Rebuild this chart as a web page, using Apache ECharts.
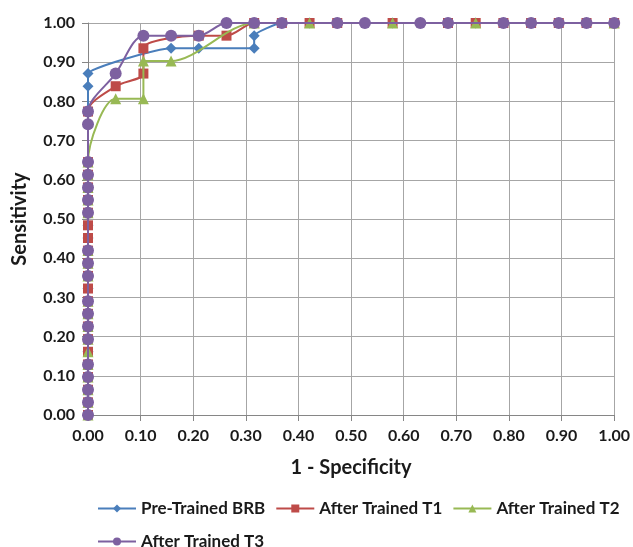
<!DOCTYPE html>
<html>
<head>
<meta charset="utf-8">
<script src="https://cdn.jsdelivr.net/npm/echarts@6/dist/echarts.min.js"></script>
<style>
html,body{margin:0;padding:0;background:#fff;}
#c{width:633px;height:547px;}
</style>
</head>
<body>
<div id="c"></div>
<script>
// Tick labels
var xTicks = [0,0.1,0.2,0.3,0.4,0.5,0.6,0.7,0.8,0.9,1.0];
var yTicks = [0,0.1,0.2,0.3,0.4,0.5,0.6,0.7,0.8,0.9,1.0];
var seriesNames = ['Pre-Trained BRB','After Trained T1','After Trained T2','After Trained T3'];

// Pre-Trained BRB
var preX = [0,0,0,0,0,0,0,0,0,0,0,0,0,0,0,0,0,0,0,0,0,0,0,0,
  0.1579,0.2105,0.3158,0.3158,0.3684,0.4211,0.4737,0.5263,0.5789,0.6316,0.6842,0.7368,0.7895,0.8421,0.8947,0.9474,1];
var preY = [0,0.0323,0.0645,0.0968,0.1290,0.1613,0.1935,0.2258,0.2581,0.2903,0.3226,0.3548,0.3871,0.4194,0.4516,0.4839,0.5161,0.5484,0.5806,0.6129,0.6452,0.7742,0.8387,0.8710,
  0.9355,0.9355,0.9355,0.9677,1,1,1,1,1,1,1,1,1,1,1,1,1];

// After Trained T1
var t1X = [0,0,0,0,0,0,0,0,0,0,0,0,0,0,0,0,0,0,0,0,0,0,
  0.0526,0.1053,0.1053,0.2105,0.2632,0.3158,0.3684,0.4211,0.4737,0.5789,0.6842,0.7368,0.7895,0.8421,0.8947,0.9474,1];
var t1Y = [0,0.0323,0.0645,0.0968,0.1290,0.1613,0.1935,0.2258,0.2581,0.2903,0.3226,0.3548,0.3871,0.4194,0.4516,0.4839,0.5161,0.5484,0.5806,0.6129,0.6452,0.7742,
  0.8387,0.8710,0.9355,0.9677,0.9677,1,1,1,1,1,1,1,1,1,1,1,1];

// After Trained T2
var t2X = [0,0,0,0,0,0,0,0,0,0,0,0,0,0,0,0,0,0,
  0.0526,0.1053,0.1053,0.1579,0.3158,0.4211,0.5789,0.7368,1];
var t2Y = [0,0.0323,0.0645,0.0968,0.1290,0.1613,0.1935,0.2258,0.2581,0.2903,0.3548,0.3871,0.4194,0.5161,0.5484,0.5806,0.6129,0.6452,
  0.8065,0.8065,0.9032,0.9032,1,1,1,1,1];

// After Trained T3
var t3X = [0,0,0,0,0,0,0,0,0,0,0,0,0,0,0,0,0,0,0,
  0.0526,0.1053,0.1579,0.2105,0.2632,0.3158,0.3684,0.4737,0.5263,0.6316,0.6842,0.7895,0.8421,0.8947,0.9474,1];
var t3Y = [0,0.0323,0.0645,0.0968,0.1290,0.1935,0.2258,0.2581,0.2903,0.3548,0.3871,0.4194,0.5161,0.5484,0.5806,0.6129,0.6452,0.7419,0.7742,
  0.8710,0.9677,0.9677,0.9677,1,1,1,1,1,1,1,1,1,1,1,1];

function pairs(xs, ys){ return xs.map(function(x,i){ return [x, ys[i]]; }); }

var colors = ['#4A7EBB','#BE4B48','#98B954','#7D60A0'];
var symbols = ['diamond','rect','triangle','circle'];
var sizes = [11,10,11,12];
var smooths = [0.15,0.3,0.3,0.3];
var datas = [pairs(preX,preY), pairs(t1X,t1Y), pairs(t2X,t2Y), pairs(t3X,t3Y)];

var FONT = 'Lato';
var chart = echarts.init(document.getElementById('c'), null, {renderer:'canvas'});
var axisCommon = function(name, gap){
  return {
    type:'value', min:0, max:1, interval:0.1,
    name:name, nameLocation:'middle', nameGap:gap,
    nameTextStyle:{fontFamily:FONT, fontSize:20, color:'#1a1a1a', fontWeight:'bold'},
    axisLine:{show:true, lineStyle:{color:'#868686', width:1}},
    axisTick:{show:true, length:6, lineStyle:{color:'#868686'}},
    splitLine:{show:true, lineStyle:{color:'#a6a6a6', width:1}},
    axisLabel:{fontFamily:FONT, fontSize:16, color:'#1a1a1a', fontWeight:'bold', margin:13,
      formatter:function(v){ return v.toFixed(2); }}
  };
};
var series = seriesNames.map(function(n,i){
  return {
    name:n, type:'line', data:datas[i], smooth:smooths[i],
    symbol:symbols[i], symbolSize:sizes[i], showAllSymbol:true,
    itemStyle:{color:colors[i]},
    lineStyle:{color:colors[i], width:2},
    z:2+i
  };
});
var legendText = {fontFamily:FONT, fontSize:17, color:'#1a1a1a', fontWeight:'bold'};
chart.setOption({
  animation:false,
  color:colors,
  grid:{left:88, right:18, top:23, bottom:132, containLabel:false},
  xAxis:axisCommon('1 - Specificity', 43),
  yAxis:axisCommon('Sensitivity', 58),
  legend:[
    {data:seriesNames.slice(0,3), left:92, top:495, itemWidth:38, itemHeight:10, itemGap:10,
      textStyle:legendText},
    {data:seriesNames.slice(3), left:92, top:528, itemWidth:38, itemHeight:10,
      textStyle:legendText}
  ],
  series:series
});
</script>
</body>
</html>
